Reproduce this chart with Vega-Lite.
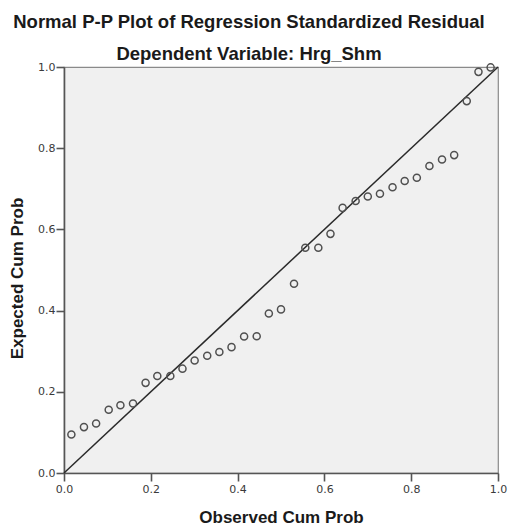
{
  "$schema": "https://vega.github.io/schema/vega-lite/v6.json",
  "autosize": "none",
  "width": 434,
  "height": 406,
  "padding": {"left": 64, "top": 67, "right": 11, "bottom": 52},
  "background": "#ffffff",
  "title": {
    "text": "Normal P-P Plot of Regression Standardized Residual",
    "subtitle": "Dependent Variable: Hrg_Shm",
    "anchor": "middle",
    "frame": "group",
    "dx": -32,
    "offset": -3,
    "font": "Liberation Sans",
    "fontSize": 18.5,
    "fontWeight": "bold",
    "color": "#1a1a1a",
    "subtitleFont": "Liberation Sans",
    "subtitleFontSize": 18.5,
    "subtitleFontWeight": "bold",
    "subtitleColor": "#1a1a1a",
    "subtitlePadding": 14
  },
  "config": {
    "view": {"fill": "#f0f0f0", "stroke": "#8a8a8a", "strokeWidth": 1.2},
    "axis": {
      "grid": false,
      "domainColor": "#555555",
      "domainWidth": 1.6,
      "tickColor": "#555555",
      "tickWidth": 1.6,
      "tickSize": 8,
      "labelFont": "DejaVu Sans",
      "labelFontSize": 11,
      "labelColor": "#3a3a3a",
      "titleFont": "Liberation Sans",
      "titleFontSize": 17,
      "titleFontWeight": "bold",
      "titleColor": "#1a1a1a"
    }
  },
  "layer": [
    {
      "data": {"values": [{"o": 0, "e": 0}, {"o": 1, "e": 1}]},
      "mark": {"type": "line", "color": "#2a2a2a", "strokeWidth": 1.5},
      "encoding": {
        "x": {"field": "o", "type": "quantitative"},
        "y": {"field": "e", "type": "quantitative"}
      }
    },
    {
      "data": {"values": [
        {"observed": 0.017, "expected": 0.095},
        {"observed": 0.046, "expected": 0.113},
        {"observed": 0.074, "expected": 0.122},
        {"observed": 0.103, "expected": 0.156},
        {"observed": 0.130, "expected": 0.167},
        {"observed": 0.159, "expected": 0.171},
        {"observed": 0.188, "expected": 0.222},
        {"observed": 0.215, "expected": 0.239},
        {"observed": 0.245, "expected": 0.239},
        {"observed": 0.273, "expected": 0.257},
        {"observed": 0.301, "expected": 0.277},
        {"observed": 0.330, "expected": 0.289},
        {"observed": 0.358, "expected": 0.298},
        {"observed": 0.386, "expected": 0.310},
        {"observed": 0.415, "expected": 0.336},
        {"observed": 0.444, "expected": 0.337},
        {"observed": 0.472, "expected": 0.393},
        {"observed": 0.500, "expected": 0.403},
        {"observed": 0.530, "expected": 0.466},
        {"observed": 0.556, "expected": 0.555},
        {"observed": 0.586, "expected": 0.555},
        {"observed": 0.614, "expected": 0.589},
        {"observed": 0.642, "expected": 0.653},
        {"observed": 0.672, "expected": 0.670},
        {"observed": 0.700, "expected": 0.681},
        {"observed": 0.728, "expected": 0.688},
        {"observed": 0.757, "expected": 0.704},
        {"observed": 0.785, "expected": 0.719},
        {"observed": 0.813, "expected": 0.727},
        {"observed": 0.842, "expected": 0.756},
        {"observed": 0.871, "expected": 0.772},
        {"observed": 0.899, "expected": 0.783},
        {"observed": 0.928, "expected": 0.916},
        {"observed": 0.955, "expected": 0.988},
        {"observed": 0.983, "expected": 0.999}
      ]},
      "mark": {"type": "point", "shape": "circle", "filled": false, "size": 50, "stroke": "#505050", "strokeWidth": 1.5, "opacity": 1},
      "encoding": {
        "x": {
          "field": "observed", "type": "quantitative",
          "scale": {"domain": [0, 1], "nice": false, "zero": false},
          "axis": {"title": "Observed Cum Prob", "values": [0, 0.2, 0.4, 0.6, 0.8, 1.0], "format": ".1f", "labelPadding": 2, "labelBaseline": "top", "titleY": 49, "titleBaseline": "alphabetic", "labelFlush": false}
        },
        "y": {
          "field": "expected", "type": "quantitative",
          "scale": {"domain": [0, 1], "nice": false, "zero": false},
          "axis": {"title": "Expected Cum Prob", "values": [0, 0.2, 0.4, 0.6, 0.8, 1.0], "format": ".1f", "labelPadding": 1, "titleX": -42, "titleY": 211, "titleAngle": -90, "titleBaseline": "alphabetic", "titleAlign": "center", "labelFlush": false}
        }
      }
    }
  ]
}
